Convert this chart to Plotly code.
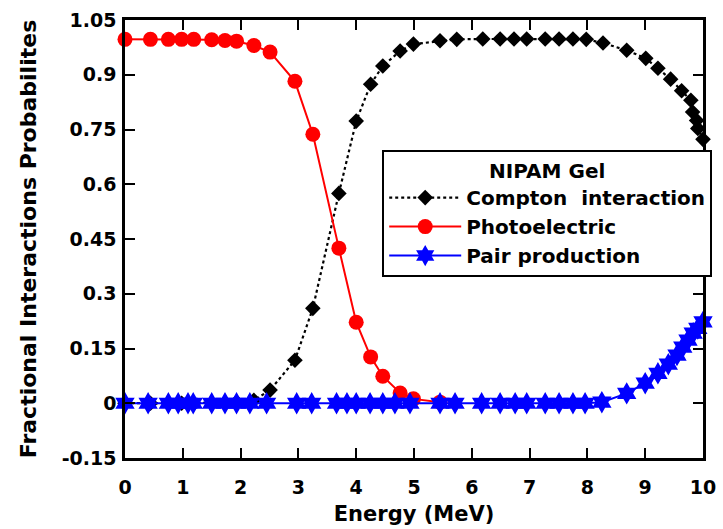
import plotly.graph_objects as go

# Energies (MeV) and fractional probabilities
compton_E = [0, 0.44, 0.75, 0.98, 1.19, 1.5, 1.73, 1.93, 2.23, 2.51, 2.94, 3.25, 3.7, 4.0,
             4.25, 4.46, 4.76, 4.99, 5.45, 5.74, 6.19, 6.49, 6.73, 6.95, 7.27, 7.51, 7.75,
             7.98, 8.27, 8.68, 9.01, 9.22, 9.44, 9.63, 9.79, 9.82, 9.89, 9.91, 10.0]
compton_P = [0.0, 0.0, 0.0, 0.0, 0.0, 0.0, 0.001, 0.003, 0.008, 0.036, 0.118, 0.26, 0.575, 0.773,
             0.874, 0.924, 0.965, 0.984, 0.993, 0.997, 0.998, 0.998, 0.998, 0.998, 0.998, 0.998, 0.998,
             0.997, 0.987, 0.967, 0.945, 0.918, 0.888, 0.856, 0.83, 0.798, 0.775, 0.753, 0.723]

photo_E = [0, 0.44, 0.75, 0.98, 1.19, 1.5, 1.73, 1.93, 2.23, 2.51, 2.94, 3.25, 3.7, 4.0,
           4.25, 4.46, 4.76, 4.99, 5.45]
photo_P = [0.997, 0.997, 0.997, 0.997, 0.997, 0.996, 0.994, 0.992, 0.98, 0.962, 0.882, 0.737,
           0.425, 0.222, 0.127, 0.074, 0.028, 0.012, 0.003]

pair_E = [0, 0.4, 0.75, 0.92, 1.09, 1.18, 1.5, 1.73, 1.93, 2.16, 2.45, 2.97, 3.23, 3.66, 3.84,
          4.0, 4.24, 4.46, 4.67, 4.93, 5.45, 5.71, 6.17, 6.49, 6.75, 6.95, 7.27, 7.51, 7.75,
          7.96, 8.25, 8.68, 9.0, 9.22, 9.4, 9.55, 9.65, 9.74, 9.83, 9.91, 10.0]
pair_P = [0.0, 0.0, 0.0, 0.0, 0.0, 0.0, 0.0, 0.0, 0.0, 0.0, 0.0, 0.0, 0.0, 0.0, 0.0,
          0.0, 0.0, 0.0, 0.0, 0.0, 0.0, 0.0, 0.0, 0.0, 0.0, 0.0, 0.0, 0.0, 0.0,
          0.0, 0.003, 0.027, 0.055, 0.082, 0.107, 0.132, 0.154, 0.173, 0.192, 0.205, 0.223]

x_ticks = [0, 1, 2, 3, 4, 5, 6, 7, 8, 9, 10]
y_ticks = [-0.15, 0, 0.15, 0.3, 0.45, 0.6, 0.75, 0.9, 1.05]
y_labels = ["-0.15", "0", "0.15", "0.3", "0.45", "0.6", "0.75", "0.9", "1.05"]

FONT = "DejaVu Sans, sans-serif"

fig = go.Figure()
fig.add_trace(go.Scatter(
    x=compton_E, y=compton_P, mode="lines+markers", name="<b>Compton  interaction</b>",
    line=dict(color="black", width=2.2, dash="dot"),
    marker=dict(symbol="diamond", size=12, color="black"),
    cliponaxis=False,
))
fig.add_trace(go.Scatter(
    x=photo_E, y=photo_P, mode="lines+markers", name="<b>Photoelectric</b>",
    line=dict(color="#ff0000", width=2),
    marker=dict(symbol="circle", size=15, color="#ff0000"),
    cliponaxis=False,
))
fig.add_trace(go.Scatter(
    x=pair_E, y=pair_P, mode="lines+markers", name="<b>Pair production</b>",
    line=dict(color="#0000ff", width=2),
    marker=dict(symbol="hexagram", size=17, color="#0000ff"),
    cliponaxis=False,
))

axis_common = dict(
    showline=True, linecolor="black", linewidth=2.5, mirror="ticks",
    ticks="inside", ticklen=10, tickwidth=1.5, tickcolor="black",
    showgrid=False, zeroline=False,
    tickfont=dict(family=FONT, size=19, color="black", weight="bold"),
)

fig.update_layout(
    width=723, height=529,
    margin=dict(l=125, r=20, t=20, b=71, autoexpand=False),
    paper_bgcolor="white", plot_bgcolor="white",
    font=dict(family=FONT, color="black"),
    xaxis=dict(range=[0, 10], tickvals=x_ticks, ticklabelstandoff=10,
               title=dict(text="<b>Energy (MeV)</b>", font=dict(family=FONT, size=21), standoff=10),
               **axis_common),
    yaxis=dict(range=[-0.15, 1.05], tickvals=y_ticks, ticktext=y_labels, ticklabelstandoff=2,
               title=dict(text="<b>Fractional Interactions Probabilites</b>",
                          font=dict(family=FONT, size=22), standoff=19),
               **axis_common),
    legend=dict(
        x=0.445, xanchor="left", y=0.703, yanchor="top",
        bgcolor="white", bordercolor="black", borderwidth=2,
        font=dict(family=FONT, size=20, color="black"),
        title=dict(text="<b>NIPAM Gel</b>", side="top center",
                   font=dict(family=FONT, size=20, color="black")),
        tracegroupgap=0, itemwidth=72,
    ),
    showlegend=True,
)

fig.write_html("out.html")
